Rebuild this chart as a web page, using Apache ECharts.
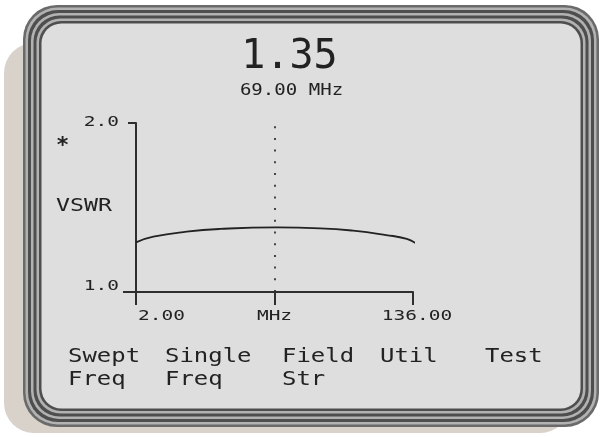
<!DOCTYPE html>
<html><head><meta charset="utf-8">
<script src="https://cdn.jsdelivr.net/npm/echarts@6/dist/echarts.min.js"></script>
<style>html,body{margin:0;padding:0;background:#fff}#c{width:601px;height:437px}</style>
</head><body><div id="c"></div>
<script>
// ---- data ----
const freqMHz = [2, 10.4, 26.5, 42.6, 70, 91, 107, 123, 133, 137.8];
const vswr    = [1.294, 1.327, 1.357, 1.373, 1.382, 1.377, 1.363, 1.337, 1.314, 1.284];
const xTickValues = [2, 69, 136];
const xTickLabels = ['2.00', 'MHz', '136.00'];
const yTickValues = [2.0, 1.0];
const yTickLabels = ['2.0', '1.0'];
const markerFreq = 69;
const readoutValue = '1.35';
const readoutFreq = '69.00 MHz';
const yAxisName = 'VSWR';
const menuTop = ['Swept', 'Single', 'Field', 'Util', 'Test'];
const menuBottom = ['Freq', 'Freq', 'Str', '', ''];

// ---- rendering ----
const INK = '#222222';
const MONO = '"DejaVu Sans Mono"';
const chart = echarts.init(document.getElementById('c'));

const axisLineStyle = { color: '#2e2e2e', width: 2 };
const option = {
  animation: false,
  backgroundColor: 'transparent',
  grid: { left: 136, top: 123, width: 277, height: 169, containLabel: false },
  xAxis: {
    type: 'value', min: 2, max: 136, z: 10,
    axisLine: { show: true, onZero: false, lineStyle: axisLineStyle },
    axisTick: { show: true, customValues: xTickValues, length: 13, lineStyle: axisLineStyle },
    axisLabel: { show: false }, splitLine: { show: false }
  },
  yAxis: [
    {
      type: 'value', min: 1, max: 2, position: 'left', z: 10,
      axisLine: { show: true, onZero: false, lineStyle: axisLineStyle },
      axisTick: { show: true, customValues: [yTickValues[0]], length: 8, lineStyle: axisLineStyle },
      axisLabel: { show: false }, splitLine: { show: false }
    },
    {
      type: 'value', min: 1, max: 2, position: 'left', z: 10,
      axisLine: { show: false, onZero: false },
      axisTick: { show: true, customValues: [yTickValues[1]], length: 13, lineStyle: axisLineStyle },
      axisLabel: { show: false }, splitLine: { show: false }
    }
  ],
  series: [{
    type: 'line', smooth: 0.5, symbol: 'none', clip: false, z: 12,
    data: freqMHz.map((f, i) => [f, vswr[i]]),
    lineStyle: { color: INK, width: 1.8 },
    markLine: {
      silent: true, symbol: 'none', label: { show: false },
      lineStyle: { type: [2, 9.7], color: '#444', width: 2 },
      data: [{ xAxis: markerFreq }]
    }
  }]
};
chart.setOption(option);

function txt(text, x, y, size, align, sx, weight) {
  return {
    type: 'text', x: x, y: y, scaleX: sx || 1, z: 20,
    style: {
      text: text, font: (weight || 'normal') + ' ' + size + 'px ' + MONO, fill: INK,
      align: align, textAlign: align, verticalAlign: 'middle', textVerticalAlign: 'middle'
    }
  };
}

const g = [];
// shadow
g.push({ type: 'rect', z: -10, shape: { x: 4, y: 43, width: 566, height: 390, r: 30 }, style: { fill: '#d8d2cb' } });
// bezel bands
const X0 = 23, Y0 = 5, W = 576, H = 422;
const bands = [
  [0, '#6a6a6a', 34], [2.5, '#b2b2b2', 32], [5, '#4e4e4e', 30], [8, '#b2b2b2', 28],
  [10.5, '#4e4e4e', 26], [13.5, '#b2b2b2', 24], [16, '#4e4e4e', 22], [18.5, '#dedede', 20]
];
bands.forEach((b, i) => {
  g.push({ type: 'rect', z: -9 + i * 0.01, shape: { x: X0 + b[0], y: Y0 + b[0], width: W - 2 * b[0], height: H - 2 * b[0], r: b[2] }, style: { fill: b[1] } });
});

// readout
g.push(txt(readoutValue, 289.5, 58, 40, 'center', 1));
g.push(txt(readoutFreq, 291.5, 91, 15, 'center', 1.27));
// asterisk & axis name
g.push(txt('*', 62.5, 146, 22, 'center', 1, 'bold'));
g.push(txt(yAxisName, 56, 206.5, 18, 'left', 1.29));

// axis labels from the library's scales
const xAlign = ['left', 'center', 'center'];
const xDx = [2, 0, 4];
xTickValues.forEach((v, i) => {
  const px = chart.convertToPixel({ xAxisIndex: 0 }, v);
  g.push(txt(xTickLabels[i], px + xDx[i], 316.5, 14, xAlign[i], 1.39));
});
const yDy = [-1, -6];
yTickValues.forEach((v, i) => {
  const py = chart.convertToPixel({ yAxisIndex: 0 }, v);
  g.push(txt(yTickLabels[i], 136 - 17, py + yDy[i], 14, 'right', 1.39));
});

// soft-key menu
const menuX = [68, 165, 282, 380, 485];
menuTop.forEach((t, i) => { if (t) g.push(txt(t, menuX[i], 357, 19, 'left', 1.26)); });
menuBottom.forEach((t, i) => { if (t) g.push(txt(t, menuX[i], 380.5, 19, 'left', 1.26)); });

chart.setOption({ graphic: { elements: g } });
</script></body></html>
